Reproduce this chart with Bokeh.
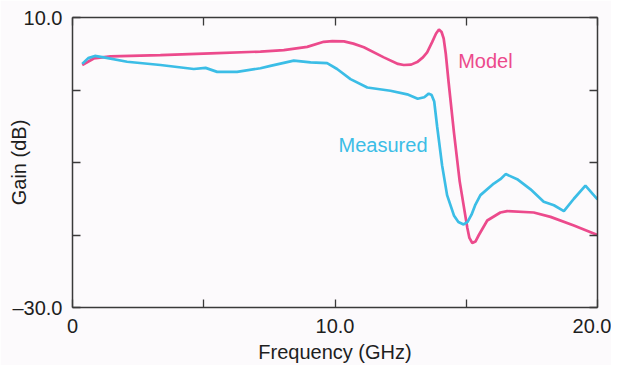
from bokeh.plotting import figure
from bokeh.models import Range1d, FixedTicker, LinearAxis, Label
from bokeh.embed import file_html
from bokeh.resources import INLINE

# ---- data ----
measured_freq = [0.37, 0.6, 0.85, 1.19, 2.08, 3.35, 4.62, 5.07, 5.51, 6.27, 7.16, 7.54, 8.43,
                 9.07, 9.70, 10.08, 10.59, 11.23, 12.11, 12.75, 13.15, 13.4, 13.57, 13.68,
                 13.78, 13.89, 14.08, 14.27, 14.53, 14.7, 14.9, 15.05, 15.2, 15.35, 15.54,
                 16.05, 16.30, 16.50, 16.94, 17.45, 17.95, 18.34, 18.72, 19.1, 19.54, 20.0]
measured_gain = [3.6, 4.4, 4.7, 4.5, 3.9, 3.45, 2.9, 3.05, 2.5, 2.5, 3.0, 3.33, 4.05,
                 3.8, 3.7, 2.9, 1.5, 0.35, -0.1, -0.6, -1.2, -1.0, -0.5, -0.7,
                 -1.6, -5.0, -10.4, -14.5, -17.3, -18.2, -18.55, -18.2, -17.2, -15.8, -14.5,
                 -12.9, -12.3, -11.6, -12.3, -13.7, -15.4, -15.9, -16.7, -15.0, -13.2, -15.1]

model_freq = [0.37, 0.81, 1.45, 3.35, 5.26, 7.16, 8.05, 8.94, 9.57, 9.9, 10.34, 10.7, 11.10,
              11.86, 12.4, 12.62, 12.9, 13.13, 13.35, 13.51, 13.7, 13.85, 13.96, 14.06, 14.14,
              14.22, 14.33, 14.53, 14.75, 15.04, 15.12, 15.23, 15.35, 15.48, 15.80, 16.30,
              16.56, 17.57, 18.21, 19.1, 20.0]
model_gain = [3.45, 4.35, 4.65, 4.8, 5.05, 5.3, 5.5, 5.95, 6.65, 6.75, 6.7, 6.4, 5.9,
              4.5, 3.6, 3.45, 3.5, 3.85, 4.5, 5.2, 6.6, 7.8, 8.35, 8.0, 7.1,
              5.0, 1.0, -5.8, -12.6, -19.0, -20.4, -21.1, -20.9, -20.0, -18.0, -16.9,
              -16.7, -16.9, -17.5, -18.7, -20.0]

x_ticks = [0, 5, 10, 15, 20]
x_tick_labels = ["0", "", "10.0", "", "20.0"]
y_ticks = [-30, -20, -10, 0, 10]
y_tick_labels = ["\u201330.0", "", "", "", "10.0"]

series_names = ["Model", "Measured"]
x_title = "Frequency (GHz)"
y_title = "Gain (dB)"

# ---- styling ----
MAGENTA = "#ec4a8c"
CYAN = "#3bbde6"
AXIS = "#3a3a3a"
TEXT = "#1e1e1e"
BG = "#fcfafc"
FONT = "Liberation Sans"
FS = "20px"

p = figure(width=611, height=365, output_backend="svg", toolbar_location=None,
           x_range=Range1d(0, 20), y_range=Range1d(-30, 10),
           min_border_left=72, min_border_right=14, min_border_top=17, min_border_bottom=57)
p.background_fill_color = BG
p.border_fill_color = BG
p.outline_line_color = None
p.xgrid.visible = False
p.ygrid.visible = False

p.line(model_freq, model_gain, line_color=MAGENTA, line_width=2.7)
p.line(measured_freq, measured_gain, line_color=CYAN, line_width=2.7)

def style_axis(ax, ticks, labels):
    ax.ticker = FixedTicker(ticks=ticks)
    ax.major_label_overrides = {t: l for t, l in zip(ticks, labels)}
    ax.axis_line_color = AXIS
    ax.axis_line_width = 1.5
    ax.major_tick_line_color = AXIS
    ax.major_tick_line_width = 1.3
    ax.major_tick_in = 8
    ax.major_tick_out = 0
    ax.minor_tick_line_color = None
    ax.major_label_text_font = FONT
    ax.major_label_text_font_size = FS
    ax.major_label_text_color = TEXT

xa = p.xaxis[0]
style_axis(xa, x_ticks, x_tick_labels)
xa.major_label_standoff = 11
xa.axis_label = x_title
xa.axis_label_text_font = FONT
xa.axis_label_text_font_size = FS
xa.axis_label_text_font_style = "normal"
xa.axis_label_text_color = TEXT
xa.axis_label_standoff = 5

ya = p.yaxis[0]
style_axis(ya, y_ticks, y_tick_labels)
ya.major_label_standoff = 10
ya.axis_label = y_title
ya.axis_label_text_font = FONT
ya.axis_label_text_font_size = FS
ya.axis_label_text_font_style = "normal"
ya.axis_label_text_color = TEXT
ya.axis_label_standoff = -21

top = LinearAxis()
style_axis(top, x_ticks, [""] * len(x_ticks))
top.major_label_text_font_size = "0px"
p.add_layout(top, "above")

right = LinearAxis()
style_axis(right, y_ticks, [""] * len(y_ticks))
right.major_label_text_font_size = "0px"
p.add_layout(right, "right")

p.add_layout(Label(x=15.73, y=3.95, text=series_names[0], text_align="center",
                   text_baseline="middle", text_font=FONT, text_font_size=FS,
                   text_color=MAGENTA))
p.add_layout(Label(x=11.83, y=-7.6, text=series_names[1], text_align="center",
                   text_baseline="middle", text_font=FONT, text_font_size=FS,
                   text_color=CYAN))

open("out.html", "w").write(file_html(p, INLINE))
